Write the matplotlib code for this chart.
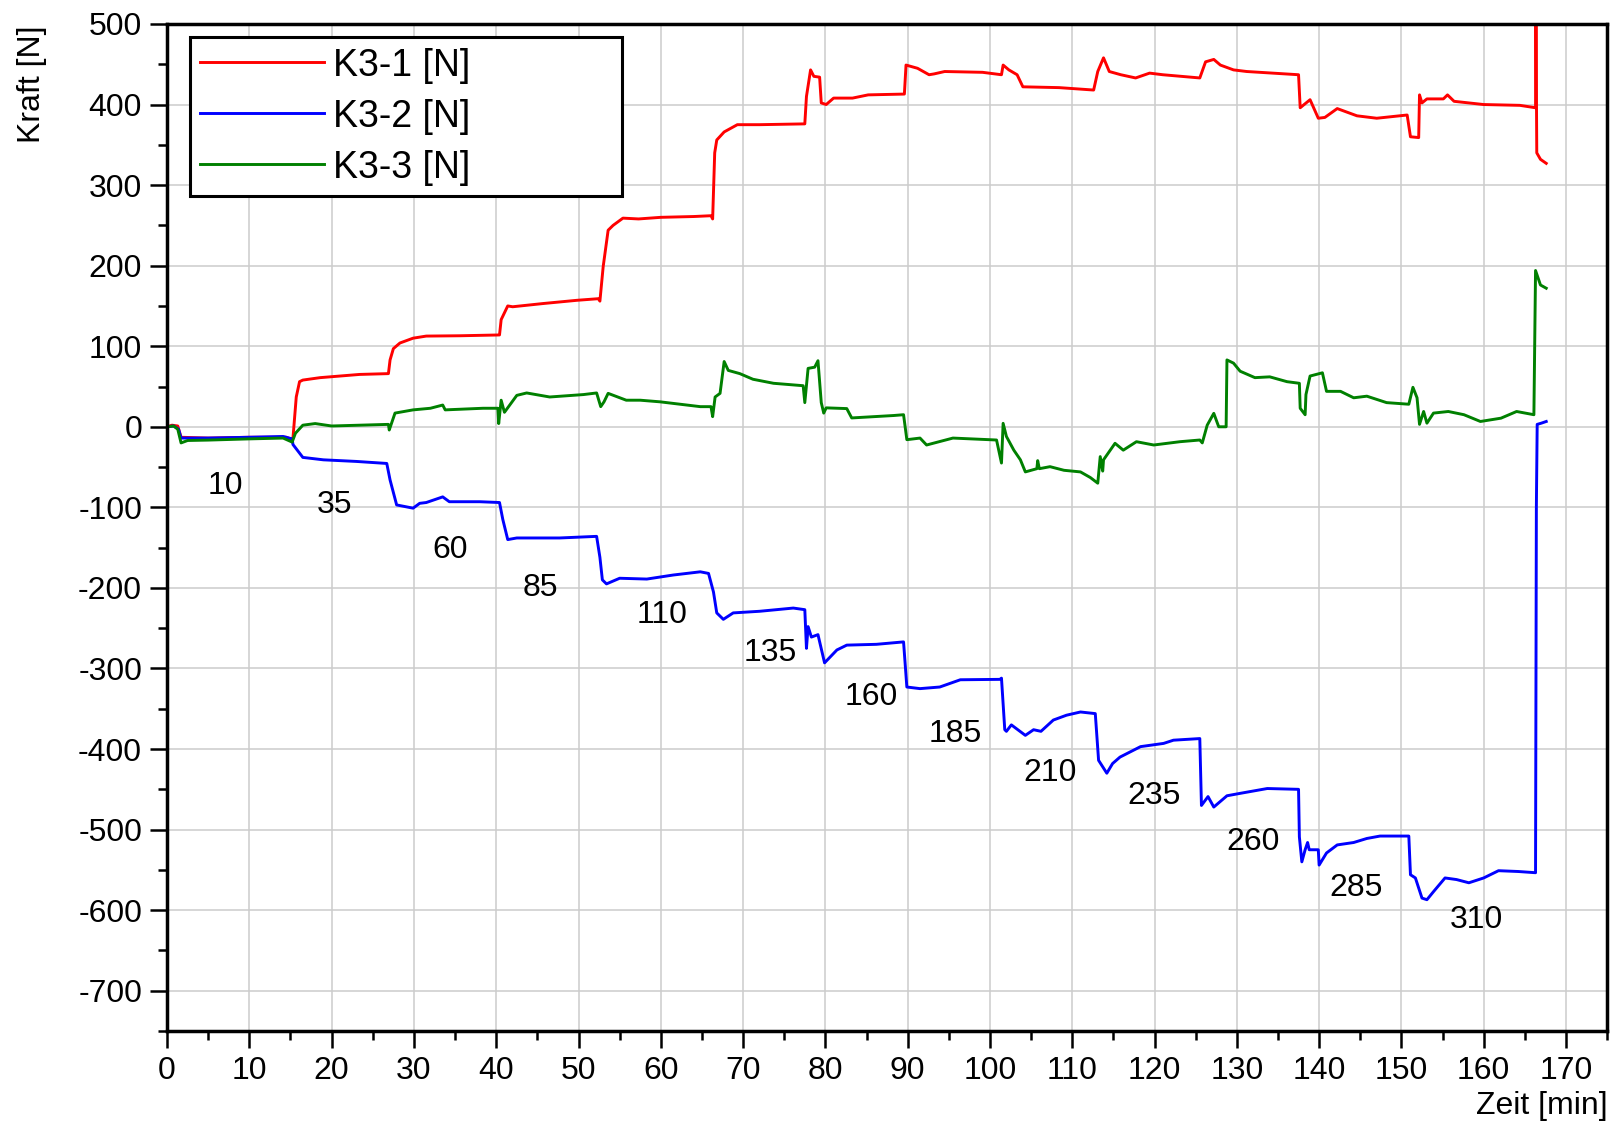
import numpy as np
import matplotlib
matplotlib.use("Agg")
import matplotlib.pyplot as plt
from matplotlib.ticker import MultipleLocator

plt.rcParams['font.family'] = ['Liberation Sans', 'DejaVu Sans']
plt.rcParams['axes.unicode_minus'] = False

# K3-1: time [min], force [N]
k31_t = [0, 0.6, 1.3, 1.7, 5, 10, 14.5, 15.0, 15.3, 15.7, 16.1, 16.5, 18.6, 23.4, 26.9,
         27.1, 27.5, 28.3, 29.9, 31.5, 35.6, 40.4, 40.6, 41.4, 42.0, 45.7, 49.8, 52.4,
         52.6, 53.0, 53.6, 54.2, 55.4, 57.3, 60, 64, 66.1, 66.3, 66.55, 66.8, 67.7, 69.3,
         72, 77.5, 77.7, 78.2, 78.6, 79.3, 79.5, 80.1, 81.0, 83.3, 85.2, 89.6, 89.8, 91.2,
         92.6, 93.2, 94.5, 99.1, 101.4, 101.6, 102.3, 103.3, 104.0, 108.4, 112.6, 113.1,
         113.8, 114.5, 115.9, 117.7, 119.4, 121, 125.5, 126.2, 127.2, 128.0, 129.6, 131.2,
         137.5, 137.7, 138.9, 139.9, 140.7, 142.2, 144.6, 147.0, 150.7, 151.1, 152.1, 152.2,
         152.5, 153.1, 155.1, 155.6, 156.4, 160.0, 164.4, 166.3, 166.35, 166.45, 166.9, 167.6]
k31_f = [0, 2, 1, -13, -14, -13, -13, -15, -14, 37, 56, 58, 61, 65, 66,
         83, 97, 104, 110, 112.6, 113, 114, 133, 150, 149, 153, 157, 159,
         156, 199, 244, 250, 259, 258, 260, 261, 262, 258, 340, 356, 366, 375,
         375, 376, 410, 443, 435, 434, 402, 400, 408, 408, 412, 413, 449, 445,
         437, 438, 441, 440, 437, 449, 443, 437, 422, 421, 418, 441,
         458, 441, 437, 433, 439, 437, 433, 453, 456, 449, 443, 441,
         437, 396, 406, 383, 384, 395, 386, 383, 387, 360, 359, 412,
         402, 407, 407, 412, 404, 400, 399, 396, 515, 340, 332, 327]

# K3-2
k32_t = [0, 0.8, 1.4, 1.7, 5, 10, 14.1, 15.2, 15.3, 16.5, 19, 23, 26.7, 27.1, 27.9, 29.9,
         30.7, 31.5, 33.5, 34.3, 38, 40.4, 40.8, 41.4, 42.5, 47.7, 52.2, 52.6, 52.9, 53.4,
         55.0, 58.3, 61.5, 64.8, 65.8, 66.4, 66.8, 67.6, 68.8, 72.0, 76.1, 77.5, 77.7, 77.9,
         78.3, 79.1, 79.9, 81.4, 82.6, 86.2, 89.5, 89.9, 91.5, 93.9, 96.4, 101.2, 101.4,
         101.8, 102.0, 102.6, 104.3, 105.3, 106.2, 107.7, 109.3, 111.0, 112.8, 113.2, 114.2,
         114.9, 115.8, 118.3, 121.1, 122.3, 125.5, 125.7, 126.5, 127.2, 128.8, 130.4, 133.7,
         137.5, 137.6, 137.9, 138.3, 138.6, 138.8, 139.9, 140.0, 140.9, 142.2, 144.2, 145.8,
         147.4, 150.9, 151.1, 151.7, 152.5, 153.1, 153.9, 155.3, 156.7, 158.2, 160.0, 161.8,
         164.2, 166.3, 166.4, 166.5, 167.0, 167.6]
k32_f = [0, 1, -3, -14, -14, -13, -12, -15, -22, -38, -41, -43, -45.5, -66, -97, -101,
         -95, -94, -87, -93, -93, -94, -115, -140, -138, -138, -136, -162, -190, -195,
         -188, -189, -184, -180, -182, -205, -231, -239, -231, -229, -225, -227, -275, -248,
         -261, -258, -293, -277, -271, -270, -267, -323, -325, -323, -314, -313.5, -312,
         -376, -378, -370, -383, -376, -378, -364, -358, -354, -356, -414, -430,
         -418, -410, -397, -393, -389, -387, -470, -459, -472, -458, -455, -449,
         -450, -509, -540, -525, -516, -525, -525, -544, -529, -519, -516, -511,
         -508, -508, -556, -560, -585, -587, -577, -560, -562, -566, -560, -551,
         -552, -553.5, -100, 3, 4.5, 6.6]

# K3-3
k33_t = [0, 0.8, 1.3, 1.7, 2.5, 5, 10, 14.1, 15.2, 15.6, 16.5, 18, 20, 26.9, 27.0, 27.7,
         29.9, 32, 33.5, 33.8, 38.4, 40.2, 40.3, 40.6, 41.0, 42.5, 43.7, 46.5, 50.6, 52.2,
         52.7, 53.1, 53.6, 55.8, 57.5, 59.9, 64.8, 66.1, 66.3, 66.6, 67.2, 67.7, 68.2, 69.6,
         71.2, 73.7, 77.3, 77.5, 77.9, 78.7, 79.1, 79.5, 79.8, 80.1, 82.6, 83.2, 88.3, 89.5,
         89.9, 91.5, 92.3, 95.5, 100.8, 101.4, 101.6, 102.0, 102.9, 103.7, 104.3, 105.7,
         105.8, 106, 107.3, 109, 111.0, 112.2, 113.1, 113.4, 113.7, 113.8, 115.2, 116.2,
         117.8, 119.9, 123.1, 125.5, 125.8, 126.4, 127.2, 127.8, 128.7, 128.8, 129.6, 130.4,
         132.2, 134, 136.1, 137.6, 137.7, 138.3, 138.4, 138.9, 140.4, 140.9, 142.6, 144.2,
         145.8, 148.2, 150.9, 151.4, 151.9, 152.2, 152.7, 153.1, 153.9, 155.7, 157.6, 159.6,
         162.1, 164.0, 166.1, 166.3, 166.9, 167.6]
k33_f = [0, 1, -3, -20, -17, -16.5, -15, -14, -19, -8, 2, 4, 1, 3, -4, 17,
         21, 23, 27, 21, 23, 23, 4, 33, 18, 39, 42, 37, 40, 42,
         25, 31, 41.5, 33, 33, 31, 25, 25, 12.6, 37, 41.5, 81, 70, 66,
         59, 54, 51, 30, 72.5, 74, 82, 30, 17, 23.5, 22.6, 11, 14, 15,
         -16, -14, -22.6, -14, -16.4, -45, 4.3, -12, -29, -41, -56, -52,
         -42, -52, -49.5, -54, -56, -63, -70, -37, -55, -41, -20.5, -29,
         -18.5, -22.6, -18.5, -16.4, -20, 2, 16.7, 0, 0, 83, 79, 69,
         61, 62, 56, 54, 23, 15, 40, 63, 67, 44, 44, 36,
         38, 30, 28, 49, 36, 3, 19, 4.5, 17, 19, 15, 6.6,
         10.7, 19, 15, 194, 176, 172]

# load step annotations along K3-2
step_text = ['10', '35', '60', '85', '110', '135', '160', '185', '210', '235', '260', '285', '310']
step_x = [7.1, 20.3, 34.4, 45.4, 60.2, 73.3, 85.6, 95.8, 107.3, 120.0, 132.0, 144.5, 159.1]
step_y = [-73.5, -96.5, -153, -199.7, -233.6, -281, -335, -381.3, -430, -458.3, -515, -573, -612]

fig = plt.figure(figsize=(16.11, 11.31), dpi=100)
ax = fig.add_axes([0.1037, 0.0884, 0.8939, 0.8904])

ax.plot(k31_t, k31_f, color='#ff0000', lw=2.1, label='K3-1 [N]')
ax.plot(k32_t, k32_f, color='#0000ff', lw=2.1, label='K3-2 [N]')
ax.plot(k33_t, k33_f, color='#008000', lw=2.1, label='K3-3 [N]')

for s, x, y in zip(step_text, step_x, step_y):
    ax.text(x, y, s, fontsize=23, ha='center', va='center')

ax.set_xlim(0, 175)
ax.set_ylim(-750, 500)
ax.xaxis.set_minor_locator(MultipleLocator(5))
ax.yaxis.set_minor_locator(MultipleLocator(50))
ax.set_xticks(np.arange(0, 171, 10))
ax.set_yticks(np.arange(-700, 501, 100))

ax.grid(True, which='major', color='#cccccc', lw=1.1)
ax.set_axisbelow(True)
for sp in ax.spines.values():
    sp.set_linewidth(2.5)
ax.tick_params(which='major', direction='out', length=12, width=1.8, labelsize=23, pad=6)
ax.tick_params(which='minor', direction='out', length=6.5, width=1.8)

ax.set_xlabel('Zeit [min]', fontsize=23)
ax.xaxis.set_label_coords(1.0, -0.060)
ax.xaxis.label.set_horizontalalignment('right')
ax.set_ylabel('Kraft [N]', fontsize=23)
ax.yaxis.set_label_coords(-0.0935, 0.94)
ax.yaxis.label.set_verticalalignment('center')

leg = ax.legend(loc='upper left', bbox_to_anchor=(0.0158, 0.836, 0.3, 0.151), mode='expand',
                borderaxespad=0, fontsize=27, handlelength=3.3, handletextpad=0.25,
                labelspacing=0.4, borderpad=0.28, fancybox=False, framealpha=1)
leg.get_frame().set_edgecolor('black')
leg.get_frame().set_linewidth(2.2)

fig.savefig('out.png', dpi=100)
